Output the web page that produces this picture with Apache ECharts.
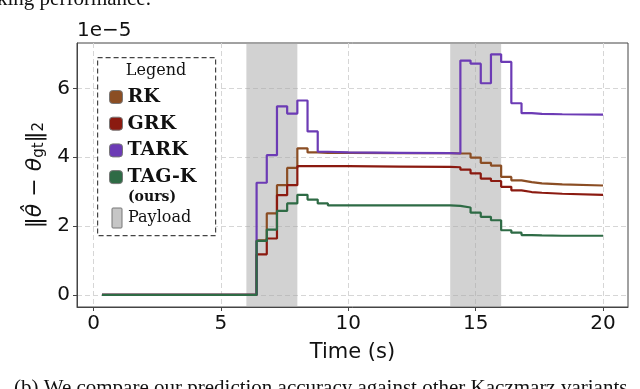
<!DOCTYPE html>
<html>
<head>
<meta charset="utf-8">
<script src="https://cdn.jsdelivr.net/npm/echarts@6/dist/echarts.min.js"></script>
<style>
    html, body { margin: 0; padding: 0; background: #fff; }
    #main { width: 640px; height: 389px; }
</style>
</head>
<body>
<div id="main"></div>
<script>
// times (s) where each step starts; values are in units of 1e-5
const times = [0.33, 6.4, 6.8, 7.2, 7.6, 8.0, 8.4, 8.8, 9.2, 10.0, 12.0, 14.0, 14.4, 14.8, 15.2, 15.6, 16.0, 16.4, 16.8, 17.2, 17.6, 18.4, 20.0];
const rk = [0, 1.59, 2.37, 3.19, 3.69, 4.26, 4.14, 4.13, 4.13, 4.12, 4.12, 4.11, 4.11, 3.99, 3.84, 3.76, 3.43, 3.33, 3.28, 3.24, 3.21, 3.18, 3.16];
const grk = [0, 1.18, 1.64, 2.90, 3.19, 3.74, 3.74, 3.74, 3.74, 3.73, 3.72, 3.71, 3.64, 3.53, 3.38, 3.31, 3.14, 3.04, 2.99, 2.97, 2.94, 2.91, 2.89];
const tark = [0, 3.26, 4.06, 5.48, 5.27, 5.65, 4.75, 4.16, 4.14, 4.13, 4.12, 4.11, 6.81, 6.72, 6.15, 6.99, 6.77, 5.57, 5.28, 5.26, 5.25, 5.24, 5.23];
const tagk = [0, 1.57, 1.90, 2.44, 2.66, 2.91, 2.77, 2.66, 2.60, 2.60, 2.60, 2.59, 2.54, 2.39, 2.27, 2.17, 1.88, 1.81, 1.74, 1.73, 1.72, 1.72, 1.72];
const payloadBands = [[6, 8], [14, 16]];
const xTicks = [0, 5, 10, 15, 20];
const yTicks = [0, 2, 4, 6];

const seriesNames = ['RK', 'GRK', 'TARK', 'TAG-K'];
const seriesValues = [rk, grk, tark, tagk];
const colors = ['#8b4e24', '#8b1a10', '#6c3bb5', '#2e6b45'];

const serif = 'DejaVu Serif';
const sans = 'DejaVu Sans';

const chart = echarts.init(document.getElementById('main'));

const series = seriesValues.map((vals, i) => {
    const s = {
        name: seriesNames[i],
        type: 'line',
        step: 'end',
        symbol: 'none',
        color: colors[i],
        lineStyle: { width: 2.2, color: colors[i] },
        data: times.map((t, k) => [t, vals[k]]),
        z: 2 + i,
    };
    if (i === 0) {
        s.markArea = {
            silent: true,
            itemStyle: { color: 'rgba(165,165,165,0.5)' },
            data: payloadBands.map(b => [{ xAxis: b[0] }, { xAxis: b[1] }]),
        };
    }
    return s;
});

const option = {
    animation: false,
    grid: {
        left: 77,
        right: 12,
        top: 43,
        bottom: 82,
        show: true,
        borderColor: '#444',
        borderWidth: 1,
    },
    xAxis: {
        type: 'value',
        min: -0.65,
        max: 20.98,
        name: 'Time (s)',
        nameLocation: 'middle',
        nameGap: 35,
        nameTextStyle: { fontFamily: sans, fontSize: 21, color: '#111' },
        axisLine: { show: true, onZero: false, lineStyle: { color: '#444' } },
        axisTick: { show: true, length: 4, customValues: xTicks, lineStyle: { color: '#444' } },
        axisLabel: { customValues: xTicks, fontFamily: sans, fontSize: 20, color: '#111', margin: 7 },
        splitLine: { show: true, lineStyle: { color: '#d6d6d6', type: [5, 3], width: 1 } },
    },
    yAxis: {
        type: 'value',
        min: -0.35,
        max: 7.32,
        name: '‖θ\u0302 − θ{sub|gt}‖{sub|2}',
        nameLocation: 'middle',
        nameRotate: 90,
        nameGap: 30,
        nameTextStyle: {
            fontFamily: sans,
            fontSize: 22,
            fontStyle: 'italic',
            color: '#111',
            rich: {
                sub: { fontFamily: sans, fontSize: 15, fontStyle: 'normal', verticalAlign: 'bottom', color: '#111' },
            },
        },
        axisLine: { show: true, onZero: false, lineStyle: { color: '#444' } },
        axisTick: { show: true, length: 4, customValues: yTicks, lineStyle: { color: '#444' } },
        axisLabel: { customValues: yTicks, fontFamily: sans, fontSize: 20, color: '#111', margin: 7 },
        splitLine: { show: true, lineStyle: { color: '#d6d6d6', type: [5, 3], width: 1 } },
    },
    legend: {
        orient: 'vertical',
        left: 109,
        top: 87,
        padding: 0,
        itemGap: 6.7,
        itemWidth: 13,
        itemHeight: 13,
        icon: 'roundRect',
        itemStyle: { borderColor: '#777', borderWidth: 1 },
        textStyle: { fontFamily: serif, fontWeight: 'bold', fontSize: 19, color: '#111', lineHeight: 20 },
        data: seriesNames,
        z: 10,
    },
    graphic: [
        {
            type: 'text', left: -3, top: -11, z: 10,
            style: { text: 'king performance.', font: '21px "Liberation Serif"', fill: '#111' },
        },
        {
            type: 'text', left: 14, top: 378, z: 10,
            style: { text: '(b) We compare our prediction accuracy against other Kaczmarz variants', font: '21px "Liberation Serif"', fill: '#111' },
        },
        {
            type: 'text', left: 77, top: 21, z: 10,
            style: { text: '1e−5', font: '20px "DejaVu Sans"', fill: '#111' },
        },
        {
            type: 'rect', left: 97, top: 57, z: 8,
            shape: { width: 118, height: 178 },
            style: { fill: '#fff', stroke: '#444', lineWidth: 1.2, lineDash: [5, 3] },
        },
        {
            type: 'text', x: 156, y: 71, z: 10,
            style: { text: 'Legend', font: '16px "DejaVu Serif"', fill: '#111', align: 'center', verticalAlign: 'middle' },
        },
        {
            type: 'text', x: 128, y: 197, z: 10,
            style: { text: '(ours)', font: 'bold 14px "DejaVu Serif"', fill: '#111', verticalAlign: 'middle' },
        },
        {
            type: 'rect', x: 112, y: 208, z: 10,
            shape: { width: 10, height: 20, r: 1 },
            style: { fill: '#c6c6c6', stroke: '#777', lineWidth: 1 },
        },
        {
            type: 'text', x: 128, y: 218, z: 10,
            style: { text: 'Payload', font: '16px "DejaVu Serif"', fill: '#111', verticalAlign: 'middle' },
        },
    ],
    series: series,
};

chart.setOption(option);
</script>
</body>
</html>
